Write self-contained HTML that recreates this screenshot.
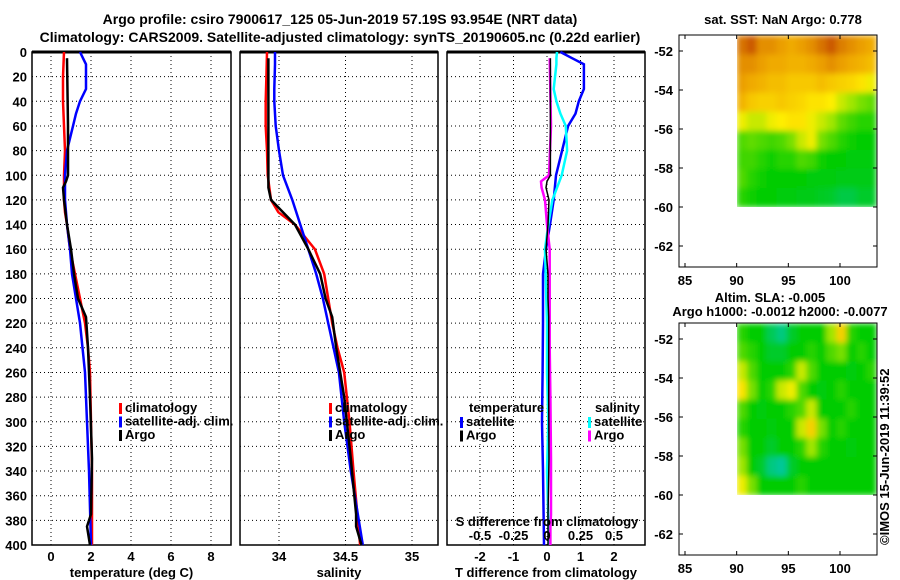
<!DOCTYPE html>
<html><head><meta charset="utf-8"><style>
body{margin:0;background:#fff;}
svg{display:block;font-family:"Liberation Sans",sans-serif;font-weight:bold;}
text{font-size:13px;fill:#000;}
</style></head><body>
<svg id="c" width="900" height="580" viewBox="0 0 900 580">
<defs>
<filter id="bl" x="0" y="0" width="1" height="1"><feGaussianBlur stdDeviation="3" edgeMode="duplicate"/></filter>
<clipPath id="cp1"><rect x="737" y="35" width="140" height="172"/></clipPath>
<clipPath id="cp2"><rect x="737" y="323" width="140" height="172"/></clipPath>
</defs>
<text x="340" y="24" text-anchor="middle" style="font-size:14px">Argo profile: csiro 7900617_125 05-Jun-2019 57.19S 93.954E (NRT data)</text>
<text x="340" y="42" text-anchor="middle" style="font-size:14px">Climatology: CARS2009. Satellite-adjusted climatology: synTS_20190605.nc (0.22d earlier)</text>
<text x="783" y="24" text-anchor="middle">sat. SST: NaN Argo: 0.778</text>
<text x="770" y="302" text-anchor="middle">Altim. SLA: -0.005</text>
<text x="780" y="316" text-anchor="middle">Argo h1000: -0.0012 h2000: -0.0077</text>
<text transform="translate(889,545) rotate(-90)">©IMOS 15-Jun-2019 11:39:52</text>
</svg>
<script>
// ---- data ----
const depthTicks=[0,20,40,60,80,100,120,140,160,180,200,220,240,260,280,300,320,340,360,380,400];
const tTicks=[0,2,4,6,8];
const sTicks=[34,34.5,35];
const dTicks=[-2,-1,0,1,2];
const sdTicks=[-0.5,-0.25,0,0.25,0.5];
const sdTickLabels=["-0.5","-0.25","0","0.25","0.5"];
const climDepth=[0,20,40,60,80,100,120,130,140,160,180,200,220,240,260,300,340,400];
const climT=[0.65,0.6,0.6,0.65,0.7,0.65,0.65,0.7,0.8,0.95,1.2,1.45,1.7,1.85,1.95,2.0,2.05,2.05];
const argoDepth=[5,60,100,105,110,120,140,160,180,200,215,240,280,330,375,385,400];
const argoT=[0.8,0.85,0.85,0.75,0.6,0.65,0.8,1.0,1.15,1.35,1.75,1.85,1.95,2.05,2.0,1.8,1.95];
const satDepth=[0,5,10,30,40,50,60,80,100,120,140,160,180,200,220,260,300,340,400];
const satT=[1.45,1.6,1.75,1.75,1.45,1.25,1.1,0.8,0.7,0.7,0.8,0.95,1.05,1.25,1.45,1.7,1.8,1.9,2.0];
const climS=[33.91,33.905,33.90,33.90,33.91,33.915,33.94,33.995,34.12,34.27,34.34,34.37,34.40,34.44,34.49,34.53,34.56,34.61];
const argoS=[33.92,33.92,33.92,33.92,33.92,33.94,34.12,34.22,34.31,34.35,34.40,34.43,34.49,34.54,34.58,34.58,34.62];
const satS=[33.97,33.97,33.97,33.965,33.965,33.97,33.975,34.0,34.03,34.1,34.16,34.22,34.28,34.33,34.37,34.45,34.49,34.54,34.63];
const satDiffT=[0.4,0.75,1.1,1.1,0.95,0.85,0.63,0.45,0.27,0.2,0.09,-0.03,-0.12,-0.12,-0.12,-0.13,-0.15,-0.12,-0.09];
const argoDiffT=[0.1,0.1,0.1,0.0,-0.03,0.06,0.03,-0.03,0.03,0.03,0.05,0.05,0.05,0.06,0.03,0.03,0.03];
const satDiffS=[0.075,0.07,0.07,0.05,0.07,0.1,0.14,0.15,0.11,0.04,0.01,-0.015,-0.01,-0.005,0.0,0.0,0.01,0.0,0.015];
const argoDiffS=[0.02,0.03,0.015,-0.045,-0.04,-0.015,0.0,0.02,0.02,0.02,0.02,0.02,0.025,0.03,0.03,0.025,0.025];
const mapLatTicks=[-52,-54,-56,-58,-60,-62];
const mapLonTicks=[85,90,95,100];
const sstField=[
[0.9,0.95,0.85,0.85,0.82,0.8,0.82,0.85,0.9,0.95,0.88,0.85,0.82,0.8],
[0.85,0.85,0.82,0.8,0.8,0.78,0.78,0.8,0.82,0.85,0.82,0.8,0.78,0.75],
[0.82,0.8,0.78,0.75,0.75,0.72,0.72,0.72,0.75,0.72,0.7,0.68,0.65,0.6],
[0.78,0.72,0.7,0.7,0.72,0.7,0.68,0.65,0.65,0.62,0.55,0.5,0.45,0.42],
[0.6,0.55,0.55,0.6,0.62,0.65,0.65,0.6,0.55,0.5,0.42,0.38,0.35,0.35],
[0.4,0.42,0.4,0.38,0.4,0.45,0.55,0.6,0.45,0.4,0.35,0.32,0.3,0.3],
[0.38,0.38,0.35,0.32,0.35,0.35,0.4,0.38,0.32,0.3,0.3,0.28,0.28,0.28],
[0.4,0.35,0.32,0.3,0.3,0.3,0.3,0.28,0.28,0.28,0.27,0.27,0.27,0.27],
[0.35,0.32,0.3,0.3,0.28,0.28,0.27,0.27,0.26,0.25,0.22,0.22,0.25,0.25]];
const slaField=[
[0.35,0.3,0.3,0.2,0.15,0.25,0.3,0.3,0.3,0.5,0.7,0.35,0.3,0.3],
[0.4,0.35,0.3,0.25,0.25,0.3,0.3,0.35,0.3,0.4,0.45,0.3,0.35,0.3],
[0.55,0.4,0.3,0.3,0.3,0.35,0.55,0.4,0.3,0.3,0.3,0.28,0.3,0.35],
[0.65,0.45,0.3,0.35,0.55,0.6,0.4,0.3,0.28,0.3,0.35,0.3,0.3,0.3],
[0.4,0.3,0.28,0.3,0.3,0.35,0.4,0.55,0.3,0.3,0.3,0.35,0.3,0.3],
[0.35,0.3,0.3,0.28,0.3,0.3,0.55,0.7,0.45,0.3,0.35,0.3,0.3,0.3],
[0.45,0.3,0.3,0.25,0.3,0.3,0.35,0.5,0.35,0.3,0.3,0.28,0.3,0.3],
[0.5,0.3,0.25,0.15,0.12,0.25,0.3,0.3,0.3,0.3,0.3,0.3,0.3,0.3],
[0.6,0.45,0.3,0.3,0.3,0.3,0.35,0.3,0.3,0.3,0.3,0.3,0.3,0.3]];

const NS="http://www.w3.org/2000/svg";
const svg=document.getElementById('c');
function mk(tag,attrs,parent){const e=document.createElementNS(NS,tag);for(const k in attrs)e.setAttribute(k,attrs[k]);(parent||svg).appendChild(e);return e;}
function lin(d0,d1,r0,r1){return v=>r0+(v-d0)*(r1-r0)/(d1-d0);}
const yD=lin(0,400,52,545);

function panel(name,x0,x1,xs,ticks,labels,xtitle,showY){
  const g=mk('g',{});
  
  
  depthTicks.forEach(d=>{
    if(d>0&&d<400){const l=mk('line',{x1:x0,x2:x1,y1:yD(d),y2:yD(d),stroke:'#000','stroke-dasharray':'1,3'},g);
    }
    if(showY){const t=mk('text',{x:x0-5,y:yD(d)+5,'text-anchor':'end'},g);t.textContent=d;
    }
  });
  ticks.forEach((v,i)=>{
    const l=mk('line',{x1:xs(v),x2:xs(v),y1:52,y2:545,stroke:'#000','stroke-dasharray':'1,3'},g);
    
    const t=mk('text',{x:xs(v),y:561,'text-anchor':'middle'},g);t.textContent=labels[i];
    
  });
  const r=mk('rect',{x:x0,y:52,width:x1-x0,height:493,fill:'none',stroke:'#000','stroke-width':1.5},g);
  
  mk('line',{x1:x0,x2:x1,y1:52,y2:52,stroke:'#000','stroke-width':3},g);
  const tt=mk('text',{x:(x0+x1)/2,y:577,'text-anchor':'middle'},g);tt.textContent=xtitle;
  
  return g;
}
function series(name,depths,vals,xs,color,w,g){
  const pts=depths.map((d,i)=>xs(vals[i]).toFixed(1)+','+yD(d).toFixed(1)).join(' ');
  const p=mk('polyline',{points:pts,fill:'none',stroke:color,'stroke-width':w},g);
  
}
function legend(g,x,y,items,prefix){
  items.forEach((it,i)=>{
    const r=mk('rect',{x:x,y:y+i*13.5-9,width:3,height:11,fill:it[1]},g);
    
    const t=mk('text',{x:x+6,y:y+i*13.5},g);t.textContent=it[0];
    
  });
}
const xT=lin(0,8,51,211);
const g1=panel('temperature-panel',32,231,xT,tTicks,tTicks.map(String),'temperature (deg C)',true);
series('temperature-climatology-line',climDepth,climT,xT,'#f00',2.5,g1);
series('temperature-satellite-line',satDepth,satT,xT,'#00f',2.5,g1);
series('temperature-argo-line',argoDepth,argoT,xT,'#000',2.5,g1);
legend(g1,119,412,[['climatology','#f00'],['satellite-adj. clim.','#00f'],['Argo','#000']],'temperature');
const xS=lin(34,35,279,412);
const g2=panel('salinity-panel',240,438,xS,sTicks,sTicks.map(String),'salinity',false);
series('salinity-climatology-line',climDepth,climS,xS,'#f00',2.5,g2);
series('salinity-satellite-line',satDepth,satS,xS,'#00f',2.5,g2);
series('salinity-argo-line',argoDepth,argoS,xS,'#000',2.5,g2);
legend(g2,329,412,[['climatology','#f00'],['satellite-adj. clim.','#00f'],['Argo','#000']],'salinity');
const xDT=lin(-2,2,480,614);
const xDS=lin(-0.5,0.5,480,614);
const g3=panel('difference-panel',447,645,xDT,dTicks,dTicks.map(String),'T difference from climatology',false);
series('temp-diff-satellite-line',satDepth,satDiffT,xDT,'#00f',2.5,g3);
series('sal-diff-satellite-line',satDepth,satDiffS,xDS,'#0ff',2.5,g3);
series('sal-diff-argo-line',argoDepth,argoDiffS,xDS,'#f0f',2.5,g3);
series('temp-diff-argo-line',argoDepth,argoDiffT,xDT,'#000',1.5,g3);
{const t=mk('text',{x:469,y:412},g3);t.textContent='temperature';
const t2=mk('text',{x:595,y:412},g3);t2.textContent='salinity';}
legend(g3,460,426,[['satellite','#00f'],['Argo','#000']],'temp-diff');
legend(g3,588,426,[['satellite','#0ff'],['Argo','#f0f']],'sal-diff');
{const t=mk('text',{x:547,y:526,'text-anchor':'middle'},g3);t.textContent='S difference from climatology';}
sdTicks.forEach((v,i)=>{const t=mk('text',{x:xDS(v),y:540,'text-anchor':'middle'},g3);t.textContent=sdTickLabels[i];
});

function cmap(v){
  const stops=[[0.1,[0,200,170]],[0.3,[0,204,0]],[0.5,[160,230,0]],[0.62,[255,238,0]],[0.8,[240,170,0]],[1,[190,60,0]]];
  if(v<=stops[0][0])return 'rgb('+stops[0][1]+')';
  for(let i=1;i<stops.length;i++){if(v<=stops[i][0]){const a=stops[i-1],b=stops[i],f=(v-a[0])/(b[0]-a[0]);
    return 'rgb('+a[1].map((c,k)=>Math.round(c+(b[1][k]-c)*f)).join(',')+')';}}
  return 'rgb(190,60,0)';
}
function mapPanel(name,top,field,clip){
  const g=mk('g',{});
  
  const cg=mk('g',{'clip-path':'url(#'+clip+')'},g);
  const cells=mk('g',{filter:'url(#bl)'},cg);
  const xL=lin(85,100,685,840), yL=lin(-52,-62,top+16,top+211);
  const lon0=90,lon1=103.5,lat0=-51.2,lat1=-60;
  const nr=field.length,nc=field[0].length;
  field.forEach((row,i)=>row.forEach((v,j)=>{
    const xa=xL(lon0+(lon1-lon0)*j/nc), xb=xL(lon0+(lon1-lon0)*(j+1)/nc);
    const ya=yL(lat0+(lat1-lat0)*i/nr), yb=yL(lat0+(lat1-lat0)*(i+1)/nr);
    const r=mk('rect',{x:xa,y:ya,width:xb-xa+0.5,height:yb-ya+0.5,fill:cmap(v)},cells);
    
  }));
  const f=mk('rect',{x:679,y:top,width:198,height:232,fill:'none',stroke:'#000','stroke-width':1},g);
  
  mapLatTicks.forEach(v=>{
    mk('line',{x1:679,x2:683,y1:yL(v),y2:yL(v),stroke:'#000'},g);
    mk('line',{x1:873,x2:877,y1:yL(v),y2:yL(v),stroke:'#000'},g);
    const t=mk('text',{x:673,y:yL(v)+5,'text-anchor':'end'},g);t.textContent=v;
    
  });
  mapLonTicks.forEach(v=>{
    mk('line',{x1:xL(v),x2:xL(v),y1:top,y2:top+4,stroke:'#000'},g);
    mk('line',{x1:xL(v),x2:xL(v),y1:top+228,y2:top+232,stroke:'#000'},g);
    const t=mk('text',{x:xL(v),y:top+250,'text-anchor':'middle'},g);t.textContent=v;
    
  });
}
mapPanel('sst-map',35,sstField,'cp1');
mapPanel('sla-map',323,slaField,'cp2');
</script>
</body></html>
